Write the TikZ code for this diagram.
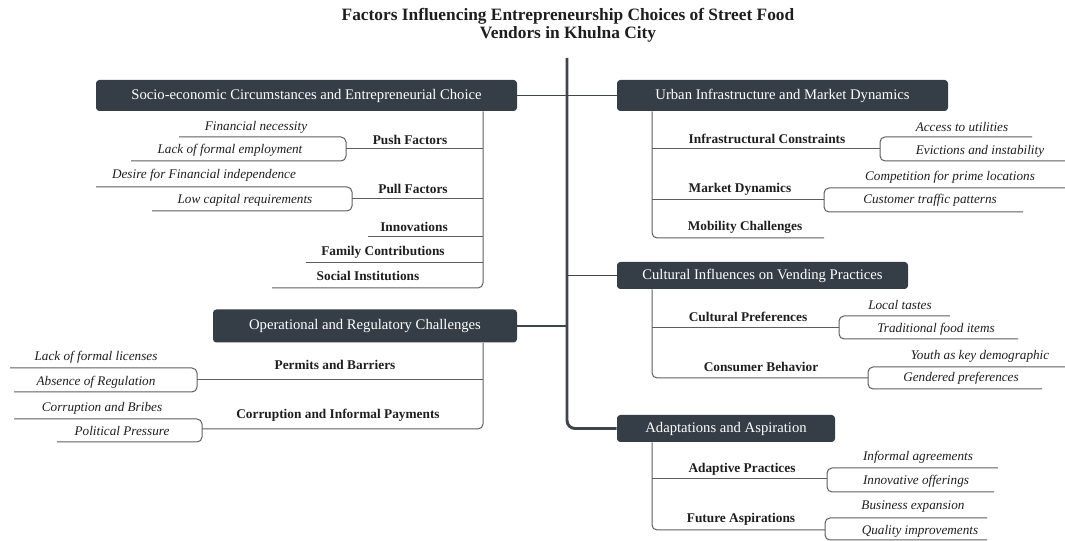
\documentclass[tikz,border=0pt]{standalone}
\usepackage{fontspec}
\setmainfont{Liberation Serif}
\definecolor{boxfill}{HTML}{353E47}
\definecolor{linegray}{HTML}{5E5E5E}
\definecolor{trunkgray}{HTML}{3D454D}
\definecolor{ink}{HTML}{1E1E1E}
\begin{document}
\begin{tikzpicture}[x=0.75pt,y=-0.75pt,
  mainbox/.style 2 args={fill=boxfill, rounded corners=2.5pt, text=white, inner sep=0pt,
    minimum width=#1*0.75pt, minimum height=#2*0.75pt, font=\fontsize{11}{13}\selectfont},
  sublabel/.style={text=ink, inner sep=0pt, font=\bfseries\fontsize{10}{12}\selectfont},
  leaf/.style={text=ink, inner sep=0pt, font=\itshape\fontsize{9.9}{12}\selectfont},
  titletext/.style={text=ink, inner sep=0pt, align=center, font=\bfseries\fontsize{13}{13.5}\selectfont},
  ul/.style={draw=linegray, line width=0.75pt},
  brk/.style={draw=linegray, line width=0.75pt, rounded corners=3.75pt},
  spine/.style={draw=linegray, line width=0.75pt, rounded corners=3.75pt},
  trunk/.style={draw=trunkgray, line width=2.2pt, rounded corners=6pt},
  link/.style={draw=trunkgray, line width=1.1pt},
]
\useasboundingbox (0,0) rectangle (1065,541);

% ---------- title and trunk ----------
\node[titletext] (title) at (568,25) {Factors Influencing Entrepreneurship Choices of Street Food\\Vendors in Khulna City};
\coordinate (trunktop) at (567,58);
\coordinate (lspine) at (483,0);
\coordinate (rspine) at (652,0);

% ---------- main topics ----------
\node[mainbox={421}{31}] (socio) at (306.5,95.5) {Socio-economic Circumstances and Entrepreneurial Choice};
\node[mainbox={304}{33}] (oper)  at (365,326) {Operational and Regulatory Challenges};
\node[mainbox={331}{31}] (urban) at (782.5,95.5) {Urban Infrastructure and Market Dynamics};
\node[mainbox={291}{27}] (cult)  at (762.5,275.5) {Cultural Influences on Vending Practices};
\node[mainbox={218}{27}] (adapt) at (726,428.5) {Adaptations and Aspiration};

\draw[trunk] (trunktop) -- (trunktop |- adapt.west) -- (adapt.west);
\draw[link] (socio.east) -- (urban.west);
\draw[link] (oper.east) -- (oper.east -| trunktop);
\draw[link] (cult.west -| trunktop) -- (cult.west);

% ---------- socio-economic branch ----------
\node[sublabel] (push)   at (410,140) {Push Factors};
\node[sublabel] (pull)   at (413,189) {Pull Factors};
\node[sublabel] (innov)  at (414,227) {Innovations};
\node[sublabel] (family) at (383,252) {Family Contributions};
\node[sublabel] (social) at (368,276) {Social Institutions};
\draw[spine] (socio.south -| lspine) -- (483,288) -- (272,288);
\draw[ul] (483,149) -- (346,149);
\draw[ul] (483,199) -- (352,199);
\draw[ul] (483,237) -- (368,237);
\draw[ul] (483,263) -- (306,263);

\node[leaf] (finnec)  at (256,127) {Financial necessity};
\node[leaf] (lackemp) at (230,150) {Lack of formal employment};
\node[leaf] (desire)  at (204,175) {Desire for Financial independence};
\node[leaf] (lowcap)  at (245,200) {Low capital requirements};
\draw[brk] (179,137) -- (346,137) -- (346,161) -- (131,161);
\draw[brk] (96,187) -- (352,187) -- (352,211) -- (152,211);

% ---------- operational branch ----------
\node[sublabel] (permits) at (335,365) {Permits and Barriers};
\node[sublabel] (corrupt) at (338,415) {Corruption and Informal Payments};
\draw[spine] (oper.south -| lspine) -- (483,429) -- (202,429);
\draw[ul] (483,380) -- (197,380);

\node[leaf] (lacklic)   at (96,357)  {Lack of formal licenses};
\node[leaf] (absence)   at (96,382)  {Absence of Regulation};
\node[leaf] (bribes)    at (102,408) {Corruption and Bribes};
\node[leaf] (political) at (122,431) {Political Pressure};
\draw[brk] (10,368) -- (197,368) -- (197,392) -- (14,392);
\draw[brk] (14,419) -- (202,419) -- (202,442) -- (57,442);

% ---------- urban branch ----------
\node[sublabel] (infra)    at (767,139) {Infrastructural Constraints};
\node[sublabel] (market)   at (740,189) {Market Dynamics};
\node[sublabel] (mobility) at (745,227) {Mobility Challenges};
\draw[spine] (urban.south -| rspine) -- (652,238) -- (824,238);
\draw[ul] (652,149) -- (880,149);
\draw[ul] (652,200) -- (824,200);

\node[leaf] (access) at (962,127) {Access to utilities};
\node[leaf] (evict)  at (980,151) {Evictions and instability};
\node[leaf] (compet) at (950,177) {Competition for prime locations};
\node[leaf] (custom) at (930,200) {Customer traffic patterns};
\draw[brk] (1032,137) -- (880,137) -- (880,161) -- (1065,161);
\draw[brk] (1065,188) -- (824,188) -- (824,212) -- (1023,212);

% ---------- cultural branch ----------
\node[sublabel] (culpref)  at (748,317) {Cultural Preferences};
\node[sublabel] (consumer) at (761,367) {Consumer Behavior};
\draw[spine] (cult.south -| rspine) -- (652,378) -- (868,378);
\draw[ul] (652,328) -- (839,328);

\node[leaf] (local)  at (900,305) {Local tastes};
\node[leaf] (tradit) at (936,329) {Traditional food items};
\node[leaf] (youth)  at (980,356) {Youth as key demographic};
\node[leaf] (gender) at (961,378) {Gendered preferences};
\draw[brk] (950,316) -- (839,316) -- (839,339) -- (1018,339);
\draw[brk] (1065,367) -- (868,367) -- (868,389) -- (1042,389);

% ---------- adaptations branch ----------
\node[sublabel] (adaptive) at (742,469) {Adaptive Practices};
\node[sublabel] (future)   at (741,519) {Future Aspirations};
\draw[spine] (adapt.south -| rspine) -- (652,530) -- (825,530);
\draw[ul] (652,479) -- (827,479);

\node[leaf] (informal) at (918,457) {Informal agreements};
\node[leaf] (innovoff) at (916,481) {Innovative offerings};
\node[leaf] (business) at (913,507) {Business expansion};
\node[leaf] (quality)  at (920,531) {Quality improvements};
\draw[brk] (998,468) -- (827,468) -- (827,492) -- (994,492);
\draw[brk] (987,518) -- (825,518) -- (825,540) -- (987,540);
\end{tikzpicture}
\end{document}
